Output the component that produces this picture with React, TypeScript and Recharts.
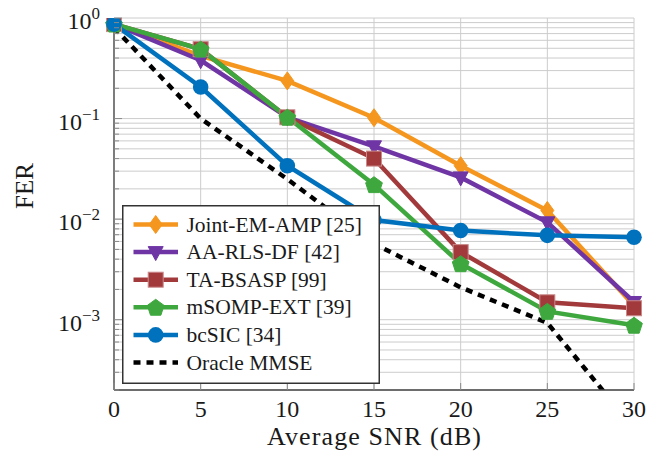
import React from 'react';
import { LineChart, Line, XAxis, YAxis, CartesianGrid, Legend, Label } from 'recharts';

const snr = [0, 5, 10, 15, 20, 25, 30];
const jointEmAmp = [0.87, 0.42, 0.237, 0.102, 0.034, 0.0122, 0.00138];
const aaRlsDf = [0.87, 0.38, 0.103, 0.053, 0.026, 0.0093, 0.0015];
const taBsasp = [0.87, 0.49, 0.103, 0.04, 0.0047, 0.00149, 0.0013];
const msompExt = [0.87, 0.49, 0.103, 0.022, 0.0036, 0.00121, 0.00088];
const bcSic = [0.87, 0.206, 0.034, 0.0098, 0.0077, 0.0069, 0.0066];
const oracleMmse = [0.8, 0.1, 0.025, 0.0057, 0.0021, 0.00093, 0.000083];

const xTicks = [0, 5, 10, 15, 20, 25, 30];
const yTickExponents = [-3, -2, -1, 0];
const yDomain: [number, number] = [2e-4, 1];

const yTicks: number[] = [];
for (let e = -4; e <= -1; e++) {
  for (let m = 1; m <= 9; m++) {
    const v = Number((m * Math.pow(10, e)).toPrecision(3));
    if (v >= yDomain[0]) yTicks.push(v);
  }
}
yTicks.push(1);

type Shape = 'diamond' | 'triangle' | 'square' | 'pentagon' | 'circle' | 'none';
const series: { key: string; name: string; color: string; shape: Shape; values: number[]; dashed?: boolean }[] = [
  { key: 'joint', name: 'Joint-EM-AMP [25]', color: '#F5961E', shape: 'diamond', values: jointEmAmp },
  { key: 'aa', name: 'AA-RLS-DF [42]', color: '#6F35A5', shape: 'triangle', values: aaRlsDf },
  { key: 'ta', name: 'TA-BSASP [99]', color: '#A23A3C', shape: 'square', values: taBsasp },
  { key: 'msomp', name: 'mSOMP-EXT [39]', color: '#3EA83E', shape: 'pentagon', values: msompExt },
  { key: 'bcsic', name: 'bcSIC [34]', color: '#0071BC', shape: 'circle', values: bcSic },
  { key: 'oracle', name: 'Oracle MMSE', color: '#000000', shape: 'none', values: oracleMmse, dashed: true },
];

const data = snr.map((s, i) => {
  const row: Record<string, number> = { snr: s };
  series.forEach((sr) => {
    row[sr.key] = sr.values[i];
  });
  return row;
});

const FONT = '"Liberation Serif", "Times New Roman", serif';
const TEXT = '#1a1a1a';
const textStyle = { fontFamily: FONT };

function Marker({ shape, cx, cy, color }: { shape: Shape; cx: number; cy: number; color: string }) {
  if (shape === 'diamond') {
    const pts = `${cx},${cy - 9} ${cx + 6.5},${cy} ${cx},${cy + 9} ${cx - 6.5},${cy}`;
    return <polygon points={pts} fill={color} stroke={color} strokeWidth={1} />;
  }
  if (shape === 'triangle') {
    const pts = `${cx - 7.5},${cy - 5.5} ${cx + 7.5},${cy - 5.5} ${cx},${cy + 8.5}`;
    return <polygon points={pts} fill={color} stroke={color} strokeWidth={1} />;
  }
  if (shape === 'square') {
    return <rect x={cx - 7.5} y={cy - 7.5} width={15} height={15} fill={color} stroke="#c98a8a" strokeWidth={1} />;
  }
  if (shape === 'pentagon') {
    const r = 8.8;
    const pts = [0, 1, 2, 3, 4]
      .map((k) => {
        const a = -Math.PI / 2 + (k * 2 * Math.PI) / 5;
        return `${cx + r * Math.cos(a)},${cy + r * Math.sin(a) + 0.8}`;
      })
      .join(' ');
    return <polygon points={pts} fill={color} stroke={color} strokeWidth={1} />;
  }
  if (shape === 'circle') {
    return <circle cx={cx} cy={cy} r={7.8} fill={color} />;
  }
  return null;
}

const makeDot = (shape: Shape, color: string, key: string) => (props: any) => {
  const { cx, cy, index } = props;
  if (cx == null || cy == null) return <g key={`${key}-${index}`} />;
  return (
    <g key={`${key}-${index}`}>
      <Marker shape={shape} cx={cx} cy={cy} color={color} />
    </g>
  );
};

const isMajor = (v: number) => {
  const e = Math.round(Math.log10(v));
  return Math.abs(v / Math.pow(10, e) - 1) < 1e-6;
};

const YTickLeft = (props: any) => {
  const { x, y, payload } = props;
  const v = payload.value as number;
  const major = isMajor(v);
  const e = Math.round(Math.log10(v));
  const show = major && yTickExponents.includes(e);
  return (
    <g>
      <line x1={x + 14} x2={x + 14 + (major ? 8 : 5)} y1={y} y2={y} stroke="#8a8a8a" strokeWidth={1} />
      {show && (
        <text x={x} y={y + 11} textAnchor="end" fontSize={24} fill={TEXT} style={textStyle}>
          10
          <tspan dy={-10} fontSize={17}>
            {e === 0 ? '0' : '\u2212' + String(-e)}
          </tspan>
        </text>
      )}
    </g>
  );
};

const YTickRight = (props: any) => {
  const { x, y, payload } = props;
  const major = isMajor(payload.value);
  return <line x1={x - (major ? 8 : 5)} x2={x} y1={y} y2={y} stroke="#8a8a8a" strokeWidth={1} />;
};

const XTickBottom = (props: any) => {
  const { x, y, payload } = props;
  return (
    <g>
      <line x1={x} x2={x} y1={y - 7} y2={y} stroke="#8a8a8a" strokeWidth={1} />
      <text x={x} y={y + 27} textAnchor="middle" fontSize={24} fill={TEXT} style={textStyle}>
        {payload.value}
      </text>
    </g>
  );
};

const XTickTop = (props: any) => {
  const { x, y } = props;
  return <line x1={x} x2={x} y1={y} y2={y + 7} stroke="#8a8a8a" strokeWidth={1} />;
};

const LegendBox = () => {
  const w = 258;
  const h = 179;
  return (
    <svg width={w} height={h} style={{ display: 'block' }}>
      <rect x={0.75} y={0.75} width={w - 1.5} height={h - 1.5} fill="#ffffff" stroke="#333333" strokeWidth={1.5} />
      {series.map((s, i) => {
        const y = 19.5 + i * 27.6;
        return (
          <g key={s.key}>
            <line
              x1={11.5}
              x2={56}
              y1={y}
              y2={y}
              stroke={s.color}
              strokeWidth={4.5}
              strokeDasharray={s.dashed ? '7 6' : undefined}
            />
            <Marker shape={s.shape} cx={33.7} cy={y} color={s.color} />
            <text x={64.5} y={y + 7} fontSize={21.5} fill={TEXT} style={textStyle}>
              {s.name}
            </text>
          </g>
        );
      })}
    </svg>
  );
};

export default function App() {
  return (
    <div style={{ marginTop: -8, marginLeft: -8, width: 666, height: 460 }}>
      <LineChart width={666} height={460} data={data} margin={{ top: 18, right: 32, left: 18, bottom: 8 }}>
        <CartesianGrid stroke="#cccccc" strokeWidth={1} />
        <XAxis
          dataKey="snr"
          type="number"
          domain={[0, 30]}
          ticks={xTicks}
          height={62}
          tickSize={0}
          tickMargin={0}
          axisLine={{ stroke: '#444444', strokeWidth: 1.3 }}
          tickLine={false}
          tick={<XTickBottom />}
          interval={0}
        >
          <Label
            content={(p: any) => {
              const vb = p.viewBox || { x: 114, y: 390, width: 520 };
              return (
                <text
                  x={vb.x + vb.width / 2}
                  y={vb.y + 55}
                  textAnchor="middle"
                  fontSize={26}
                  fill={TEXT}
                  style={textStyle}
                  textLength={214}
                  lengthAdjust="spacing"
                >
                  Average SNR (dB)
                </text>
              );
            }}
          />
        </XAxis>
        <XAxis
          xAxisId="top"
          orientation="top"
          dataKey="snr"
          type="number"
          domain={[0, 30]}
          ticks={xTicks}
          height={0}
          tickSize={0}
          tickMargin={0}
          axisLine={{ stroke: '#444444', strokeWidth: 1.3 }}
          tickLine={false}
          tick={<XTickTop />}
          interval={0}
        />
        <YAxis
          scale="log"
          type="number"
          domain={yDomain}
          allowDataOverflow
          ticks={yTicks}
          width={96}
          tickSize={0}
          tickMargin={14}
          axisLine={{ stroke: '#444444', strokeWidth: 1.3 }}
          tickLine={false}
          tick={<YTickLeft />}
          interval={0}
        >
          <Label
            content={(p: any) => {
              const vb = p.viewBox || { x: 18, y: 18, height: 372 };
              const cx = vb.x + 15;
              const cy = vb.y + vb.height / 2 - 18;
              return (
                <text
                  x={cx}
                  y={cy}
                  transform={`rotate(-90 ${cx} ${cy})`}
                  textAnchor="middle"
                  fontSize={25}
                  fill={TEXT}
                  style={textStyle}
                >
                  FER
                </text>
              );
            }}
          />
        </YAxis>
        <YAxis
          yAxisId="right"
          orientation="right"
          scale="log"
          type="number"
          domain={yDomain}
          allowDataOverflow
          ticks={yTicks}
          width={0}
          tickSize={0}
          tickMargin={0}
          axisLine={{ stroke: '#444444', strokeWidth: 1.3 }}
          tickLine={false}
          tick={<YTickRight />}
          interval={0}
        />
        {series.map((s) => (
          <Line
            key={s.key}
            dataKey={s.key}
            name={s.name}
            stroke={s.color}
            strokeWidth={4.5}
            strokeDasharray={s.dashed ? '7 6' : undefined}
            dot={s.shape === 'none' ? false : makeDot(s.shape, s.color, s.key)}
            activeDot={false}
            isAnimationActive={false}
            type="linear"
          />
        ))}
        <Legend
          layout="vertical"
          align="center"
          verticalAlign="middle"
          wrapperStyle={{ left: 121.7, top: 205, width: 258, height: 179, margin: 0, padding: 0 }}
          content={() => <LegendBox />}
        />
      </LineChart>
    </div>
  );
}
